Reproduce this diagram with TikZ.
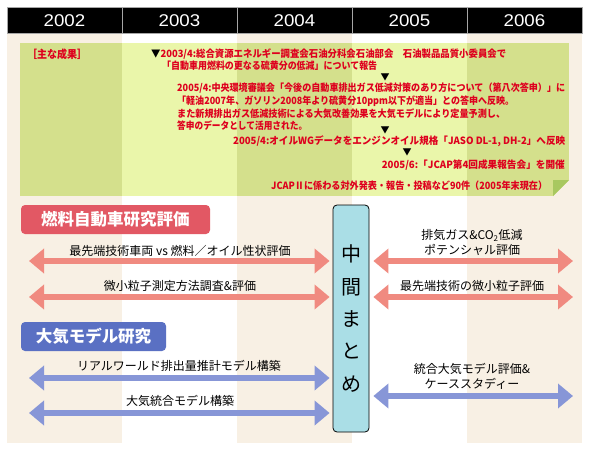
\documentclass[tikz,border=0pt]{standalone}
\usepackage{fontspec}
\usepackage{graphicx}
\usetikzlibrary{arrows.meta}
\newfontfamily\jp{Noto Sans CJK JP}
\newfontfamily\lat{Liberation Sans}
\newcommand\fitto[2]{\resizebox{#1pt}{\height}{#2}}
\definecolor{beige}{RGB}{248,240,228}
\definecolor{gdark}{RGB}{212,224,140}
\definecolor{glight}{RGB}{234,246,170}
\definecolor{gfold}{RGB}{168,200,96}
\definecolor{txtred}{RGB}{222,0,30}
\definecolor{pinkarr}{RGB}{240,138,128}
\definecolor{bluearr}{RGB}{135,150,215}
\definecolor{secred}{RGB}{226,88,100}
\definecolor{secblue}{RGB}{90,112,195}
\definecolor{midfill}{RGB}{170,222,230}
\begin{document}
\begin{tikzpicture}[x=1pt,y=-1pt,
  redt/.style={anchor=west,inner sep=0pt,text=txtred,font=\jp\bfseries\fontsize{10}{10}\selectfont,text height=8.8pt,text depth=1.2pt},
  tri/.style={inner sep=0pt,font=\jp\fontsize{9}{9}\selectfont,text=black},
  year/.style={inner sep=0pt,text=white,font=\lat\fontsize{17}{17}\selectfont},
  secbox/.style={rounded corners=4pt,inner sep=0pt,text=white,font=\jp\bfseries\fontsize{16.5}{16.5}\selectfont},
  midbox/.style={draw=black,line width=0.8pt,rounded corners=4pt,fill=midfill,inner sep=0pt,align=center,font=\jp\fontsize{20}{32.3}\selectfont},
  lbl/.style={inner sep=0pt,align=center,font=\jp\fontsize{12}{15}\selectfont,text=black},
  arrtip/.tip={Triangle[width=24pt,length=15pt]},
  parrow/.style={draw=pinkarr,line width=6.5pt,arrtip-arrtip,fill=pinkarr},
  barrow/.style={draw=bluearr,line width=6.5pt,arrtip-arrtip,fill=bluearr}]
\useasboundingbox (0,0) rectangle (590,452);
\fill[white] (0,0) rectangle (590,452);
% background columns
\foreach \x in {7,237,467} \fill[beige] (\x,33) rectangle ++(115,410);
% header
\fill[black] (7,7) rectangle (582,33);
\foreach \x in {122,237,352,467} \draw[gray!70,line width=0.7pt] (\x,7) -- (\x,33);
\draw[gray!70,line width=0.6pt] (7,7) rectangle (582,33);
\node[year] (y2002) at (64.5,20.5) {\scalebox{1.1}[1]{2002}};
\node[year] (y2003) at (179.5,20.5) {\scalebox{1.1}[1]{2003}};
\node[year] (y2004) at (294.5,20.5) {\scalebox{1.1}[1]{2004}};
\node[year] (y2005) at (409.5,20.5) {\scalebox{1.1}[1]{2005}};
\node[year] (y2006) at (524.5,20.5) {\scalebox{1.1}[1]{2006}};
% green results box
\begin{scope}
\clip (20,43) -- (569,43) -- (569,180) -- (553,196) -- (20,196) -- cycle;
\fill[gdark] (20,43) rectangle (569,196);
\fill[glight] (122,43) rectangle (237,196);
\fill[glight] (352,43) rectangle (467,196);
\end{scope}
\fill[gfold] (553,180) -- (569,180) -- (553,196) -- cycle;
% red texts
\node[redt,font=\jp\bfseries\fontsize{11}{11}\selectfont] (k0) at (27,55) {\fitto{60}{［主な成果］}};
\node[redt] (k1) at (151,54) {\fitto{355}{{\color{black}▼}2003/4:総合資源エネルギー調査会石油分科会石油部会　石油製品品質小委員会で}};
\node[redt] (k2) at (162,66) {\fitto{215}{「自動車用燃料の更なる硫黄分の低減」について報告}};
\node[tri] (a1) at (385,77) {▼};
\node[redt] (k3) at (177,88) {\fitto{388}{2005/4:中央環境審議会「今後の自動車排出ガス低減対策のあり方について（第八次答申）」に}};
\node[redt] (k4) at (177,101) {\fitto{337}{「軽油2007年、ガソリン2008年より硫黄分10ppm以下が適当」との答申へ反映。}};
\node[redt] (k5) at (177,114) {\fitto{328}{また新規排出ガス低減技術による大気改善効果を大気モデルにより定量予測し、}};
\node[redt] (k6) at (177,126) {\fitto{130}{答申のデータとして活用された。}};
\node[tri] (a2) at (385,130) {▼};
\node[redt] (k7) at (233,141) {\fitto{332}{2005/4:オイルWGデータをエンジンオイル規格「JASO DL-1, DH-2」へ反映}};
\node[tri] (a3) at (407,152) {▼};
\node[redt,anchor=east] (k8) at (565,165) {\fitto{183}{2005/6:「JCAP第4回成果報告会」を開催}};
\node[redt] (k9) at (271,186) {\fitto{276}{JCAPⅡに係わる対外発表・報告・投稿など90件（2005年末現在）}};
% section labels
\node[secbox,fill=secred,minimum width=189pt,minimum height=29pt] (s1) at (115.5,219.5) {燃料自動車研究評価};
\node[secbox,fill=secblue,minimum width=145pt,minimum height=29pt] (s2) at (93.5,336.5) {大気モデル研究};
% interim summary box
\node[midbox,minimum width=36pt,minimum height=227pt] (mid) at (351,318.5) {中\\間\\ま\\と\\め};
% arrow end points
\coordinate (p1l) at (29,261);
\coordinate (p2l) at (29,297);
\coordinate (p1r) at (573,261);
\coordinate (p2r) at (573,297);
\coordinate (b1l) at (29,378);
\coordinate (b2l) at (29,413);
\coordinate (b1r) at (573,396);
% pink arrows
\draw[parrow,shorten >=3pt] (p1l) -- (p1l -| mid.west);
\draw[parrow,shorten >=3pt] (p2l) -- (p2l -| mid.west);
\draw[parrow,shorten <=4pt] (p1r -| mid.east) -- (p1r);
\draw[parrow,shorten <=4pt] (p2r -| mid.east) -- (p2r);
% blue arrows
\draw[barrow,shorten >=3pt] (b1l) -- (b1l -| mid.west);
\draw[barrow,shorten >=3pt] (b2l) -- (b2l -| mid.west);
\draw[barrow,shorten <=4pt] (b1r -| mid.east) -- (b1r);
% labels
\node[lbl] (t1) at (180,251) {最先端技術車両 vs 燃料／オイル性状評価};
\node[lbl] (t2) at (180,286) {微小粒子測定方法調査\&評価};
\node[lbl] (t3) at (472,242.5) {排気ガス\&CO\textsubscript{2}低減\\ポテンシャル評価};
\node[lbl] (t4) at (472,286) {最先端技術の微小粒子評価};
\node[lbl] (t5) at (179,366) {リアルワールド排出量推計モデル構築};
\node[lbl] (t6) at (180,401) {大気統合モデル構築};
\node[lbl] (t7) at (472,376) {統合大気モデル評価\&\\ケーススタディー};
\end{tikzpicture}
\end{document}
